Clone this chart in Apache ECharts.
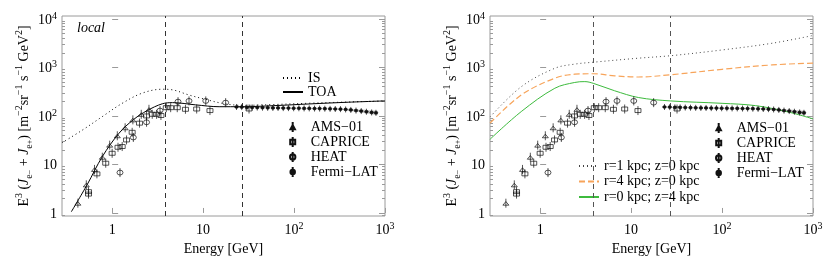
<!DOCTYPE html>
<html><head><meta charset="utf-8">
<script src="https://cdn.jsdelivr.net/npm/echarts@6/dist/echarts.min.js"></script>
<style>html,body{margin:0;padding:0;background:#fff}#c{width:830px;height:271px}</style>
</head><body><div id="c"></div>
<script>
// ---- axis ranges / ticks ----
const energyRange = [0.281, 1000];
const fluxRange = [0.866, 11480];
const xTickDecades = [0, 1, 2, 3];
const yTickDecades = [0, 1, 2, 3, 4];
const boundaryEnergies = [3.8, 27];

// ---- left panel model lines ----
const isE  = [0.281, 0.47, 0.78, 1.29, 2.14, 3.55, 4.6, 7.0, 10.7, 16.3, 27, 60, 150, 400, 1000];
const isV  = [28, 51, 97, 182, 295, 355, 345, 270, 219, 182, 165, 172, 183, 194, 204];
const toaE = [0.356, 0.53, 0.78, 1.19, 1.73, 2.43, 3.56, 4.6, 8.3, 15, 27, 60, 150, 400, 1000];
const toaV = [1.06, 3.8, 14.5, 44, 85, 129, 178, 188, 169, 155, 155, 163, 177, 192, 204];

// ---- right panel model lines ----
const r1E = [0.281, 0.62, 1.45, 2.4, 3.84, 12, 27, 100, 355, 1000];
const r1V = [95, 400, 960, 1170, 1280, 1550, 1740, 2290, 3150, 4550];
const r4E = [0.281, 0.62, 1.45, 2.4, 3.84, 6.6, 12, 27, 100, 355, 1000];
const r4V = [71, 270, 600, 725, 740, 670, 635, 705, 915, 1125, 1230];
const z4E = [0.281, 0.62, 1.45, 2.4, 3.1, 3.84, 6.6, 12, 27, 100, 234, 540, 1000];
const z4V = [33, 123, 372, 490, 510, 470, 330, 240, 204, 182, 163, 120, 87];

// ---- measurements ----
const amsE = [0.42, 0.52, 0.64, 0.78, 0.94, 1.14, 1.39, 1.69, 2.09, 2.54];
const amsV = [1.59, 3.8, 7.9, 14.1, 25, 39, 57, 83, 108, 137];
const capriceE = [0.55, 0.55, 0.68, 0.85, 1.0, 1.16, 1.29, 1.44, 1.66, 2.0, 2.39, 2.76, 3.08, 3.44, 3.94, 4.4, 5.2, 6.4, 8.5, 11.9, 32];
const capriceV = [2.75, 2.45, 6.4, 10.6, 17, 22.6, 23.4, 32, 46, 71, 100, 108, 108, 102, 148, 148, 148, 137, 139, 129, 139];
const heatE = [1.22, 1.71, 2.39, 3.36, 5.3, 7.0, 10.7, 17.7];
const heatV = [6.8, 36, 74, 129, 197, 204, 204, 188];
const fermiE = [23.3, 26.6, 30.3, 34.6, 39.4, 45.0, 51.3, 58.5, 66.7, 76.1, 86.8, 99, 113, 129, 147, 168, 191, 218, 249, 284, 324, 369, 421, 480, 548, 625, 713, 795];
const fermiV = [153, 152, 150, 150, 149, 148, 147, 146, 146, 145, 145, 144, 144, 143, 143, 142, 142, 141, 140, 139, 138, 136, 133, 129, 126, 122, 118, 116];
const bandE = [380, 480, 560, 650, 740, 830];
const bandLo = [130, 123, 117, 111, 107, 104];
const bandHi = [140, 137, 135, 132, 129, 127];

// ---- helpers ----
const L = Math.log10;
const pts = (E, V) => E.map((e, i) => [L(e), L(V[i])]);
const FONT = 'Liberation Serif, Times New Roman, serif';
const GRAY = '#9a9a9a';

const xMin = L(energyRange[0]), xMax = L(energyRange[1]);
const yMin = L(fluxRange[0]), yMax = L(fluxRange[1]);
const minorY = [];
for (let d = -1; d <= 4; d++) for (let k = 2; k <= 9; k++) {
  const v = L(k) + d; if (v > yMin && v < yMax) minorY.push(v);
}

const sym = {
  ams: 'path://M3,0L3,10M0.8,7.2L3,3.2L5.2,7.2Z',
  caprice: 'path://M3,0L3,10M0.5,2.8L5.5,2.8L5.5,7.2L0.5,7.2Z',
  heat: 'path://M3,0L3,10M0.3,5A2.7,2.7,0,1,0,5.7,5A2.7,2.7,0,1,0,0.3,5Z',
  fermi: 'path://M2.5,0L2.5,8M0.7,4A1.8,1.8,0,1,0,4.3,4A1.8,1.8,0,1,0,0.7,4Z'
};

const tickRich = {
  n: { fontFamily: FONT, fontSize: 14, color: '#000', lineHeight: 16, verticalAlign: 'bottom' },
  s: { fontFamily: FONT, fontSize: 10, color: '#000', lineHeight: 16, verticalAlign: 'top', padding: [0, 0, 6, 0] }
};
const tickFmt = v => {
  const d = Math.round(v);
  if (d === 0) return '{n|1}';
  if (d === 1) return '{n|10}';
  return '{n|10}{s|' + d + '}';
};

const yName = '{t|E}{sp|3}{t| (}{it|J}{sb|e}{ss|−}{t| + }{it|J}{sb|e}{ss|+}{t|) [m}{sp|−2}{t|sr}{sp|−1}{t| s}{sp|−1}{t| GeV}{sp|2}{t|]}';
const yNameRich = {
  t: { fontFamily: FONT, fontSize: 14, color: '#000', lineHeight: 20, verticalAlign: 'middle' },
  it: { fontFamily: FONT, fontSize: 14, fontStyle: 'italic', color: '#000', lineHeight: 20, verticalAlign: 'middle' },
  sp: { fontFamily: FONT, fontSize: 10, color: '#000', lineHeight: 10, verticalAlign: 'top' },
  sb: { fontFamily: FONT, fontSize: 10, color: '#000', lineHeight: 10, verticalAlign: 'bottom' },
  ss: { fontFamily: FONT, fontSize: 8, color: '#000', lineHeight: 14, verticalAlign: 'bottom' }
};

const grids = [
  { left: 62, top: 16, width: 323, height: 200, show: true, borderColor: GRAY, borderWidth: 1 },
  { left: 490, top: 16, width: 323, height: 200, show: true, borderColor: GRAY, borderWidth: 1 }
];

const xAxes = [], yAxes = [];
[0, 1].forEach(g => {
  xAxes.push({
    gridIndex: g, type: 'value', min: xMin, max: xMax,
    axisLine: { show: false },
    axisTick: { show: true, inside: true, length: 5, customValues: xTickDecades, lineStyle: { color: GRAY } },
    axisLabel: { customValues: xTickDecades, formatter: tickFmt, rich: tickRich, margin: 5 },
    splitLine: { show: false },
    name: 'Energy [GeV]', nameLocation: 'middle', nameGap: 26,
    nameTextStyle: { fontFamily: FONT, fontSize: 14, color: '#000' }
  });
  yAxes.push({
    gridIndex: g, type: 'value', min: yMin, max: yMax, position: 'left',
    axisLine: { show: false },
    axisTick: { show: true, inside: true, length: 6, customValues: yTickDecades, lineStyle: { color: GRAY } },
    axisLabel: { customValues: yTickDecades, formatter: tickFmt, rich: tickRich, margin: 5 },
    splitLine: { show: false },
    name: yName, nameLocation: 'middle', nameRotate: 90, nameGap: 27,
    nameTextStyle: { rich: yNameRich }
  });
  yAxes.push({
    gridIndex: g, type: 'value', min: yMin, max: yMax, position: 'left',
    axisLine: { show: false }, axisLabel: { show: false }, splitLine: { show: false },
    axisTick: { show: true, inside: true, length: 3, customValues: minorY, lineStyle: { color: GRAY } }
  });
  yAxes.push({
    gridIndex: g, type: 'value', min: yMin, max: yMax, position: 'right',
    axisLine: { show: false }, axisLabel: { show: false }, splitLine: { show: false },
    axisTick: { show: true, inside: true, length: 6, customValues: yTickDecades, lineStyle: { color: GRAY } }
  });
  yAxes.push({
    gridIndex: g, type: 'value', min: yMin, max: yMax, position: 'right',
    axisLine: { show: false }, axisLabel: { show: false }, splitLine: { show: false },
    axisTick: { show: true, inside: true, length: 3, customValues: minorY, lineStyle: { color: GRAY } }
  });
});

function lineSeries(name, g, E, V, color, type, width) {
  return {
    name, type: 'line', xAxisIndex: g, yAxisIndex: g * 4, data: pts(E, V),
    symbol: 'none', smooth: 0.35, silent: true, z: 3,
    lineStyle: { color, type, width: width || 1 }, itemStyle: { color }
  };
}
function dataSeries(name, g, E, V, symbol, size, filled) {
  return {
    name, type: 'scatter', xAxisIndex: g, yAxisIndex: g * 4, data: pts(E, V),
    symbol, symbolSize: size, silent: true, z: 5,
    itemStyle: { color: filled ? '#111' : 'rgba(0,0,0,0)', borderColor: '#111', borderWidth: 0.7, opacity: 1 }
  };
}
function bandSeries(g) {
  return {
    type: 'custom', xAxisIndex: g, yAxisIndex: g * 4, silent: true, z: 2,
    data: [[L(bandE[0]), L(bandLo[0])]],
    renderItem: (params, api) => {
      const upper = bandE.map((e, i) => api.coord([L(e), L(bandHi[i])]));
      const lower = bandE.map((e, i) => api.coord([L(e), L(bandLo[i])])).reverse();
      return { type: 'polygon', shape: { points: upper.concat(lower), smooth: 0.3 },
               style: { fill: '#d0d0d0', stroke: 'none' } };
    }
  };
}
function vlines(g, color) {
  return {
    type: 'line', xAxisIndex: g, yAxisIndex: g * 4, data: [], silent: true,
    markLine: {
      symbol: 'none', silent: true, label: { show: false },
      lineStyle: { color, type: [5, 4], width: 1 },
      data: boundaryEnergies.map(e => ({ xAxis: L(e) }))
    }
  };
}

const series = [];
[0, 1].forEach(g => {
  series.push(bandSeries(g));
  series.push(vlines(g, g === 0 ? '#333' : '#555'));
});
series.push(lineSeries('IS', 0, isE, isV, '#000', [1, 3], 1));
series.push(lineSeries('TOA', 0, toaE, toaV, '#000', 'solid', 1));
series.push(lineSeries('r=1 kpc; z=0 kpc', 1, r1E, r1V, '#444', [1, 3], 1));
series.push(lineSeries('r=4 kpc; z=0 kpc', 1, r4E, r4V, '#f7a45a', [6, 3], 1.2));
series.push(lineSeries('r=0 kpc; z=4 kpc', 1, z4E, z4V, '#3dbb3d', 'solid', 1));
[0, 1].forEach(g => {
  series.push(dataSeries('AMS−01', g, amsE, amsV, sym.ams, [6, 9], false));
  series.push(dataSeries('CAPRICE', g, capriceE, capriceV, sym.caprice, [6, 9], false));
  series.push(dataSeries('HEAT', g, heatE, heatV, sym.heat, [6, 9], false));
  series.push(dataSeries('Fermi−LAT', g, fermiE, fermiV, sym.fermi, [3.6, 6], true));
});

const legText = { fontFamily: FONT, fontSize: 14, color: '#000', lineHeight: 14 };
const dataNames = ['AMS−01', 'CAPRICE', 'HEAT', 'Fermi−LAT'];
const lineLegendBase = { orient: 'vertical', padding: 0, itemHeight: 9, textStyle: legText,
  selectedMode: false, itemStyle: { opacity: 0, borderWidth: 0 } };
const legends = [
  Object.assign({ left: 282, top: 71, itemWidth: 20, itemGap: 0, data: ['IS', 'TOA'] }, lineLegendBase),
  { left: 289, top: 120, orient: 'vertical', padding: 0, itemWidth: 26, itemHeight: 10, itemGap: 1,
    data: dataNames, textStyle: legText, selectedMode: false },
  Object.assign({ left: 578, top: 159, itemWidth: 20, itemGap: 1.5,
    data: ['r=1 kpc; z=0 kpc', 'r=4 kpc; z=0 kpc', 'r=0 kpc; z=4 kpc'] }, lineLegendBase),
  { left: 715, top: 121, orient: 'vertical', padding: 0, itemWidth: 26, itemHeight: 10, itemGap: 1,
    data: dataNames, textStyle: legText, selectedMode: false }
];

const chart = echarts.init(document.getElementById('c'), null, { renderer: 'canvas' });
chart.setOption({
  animation: false,
  backgroundColor: '#fff',
  grid: grids, xAxis: xAxes, yAxis: yAxes, legend: legends, series,
  graphic: [{ type: 'text', left: 77, top: 21,
    style: { text: 'local', fontFamily: FONT, fontSize: 14, fontStyle: 'italic', fill: '#000' } }]
});
</script></body></html>
